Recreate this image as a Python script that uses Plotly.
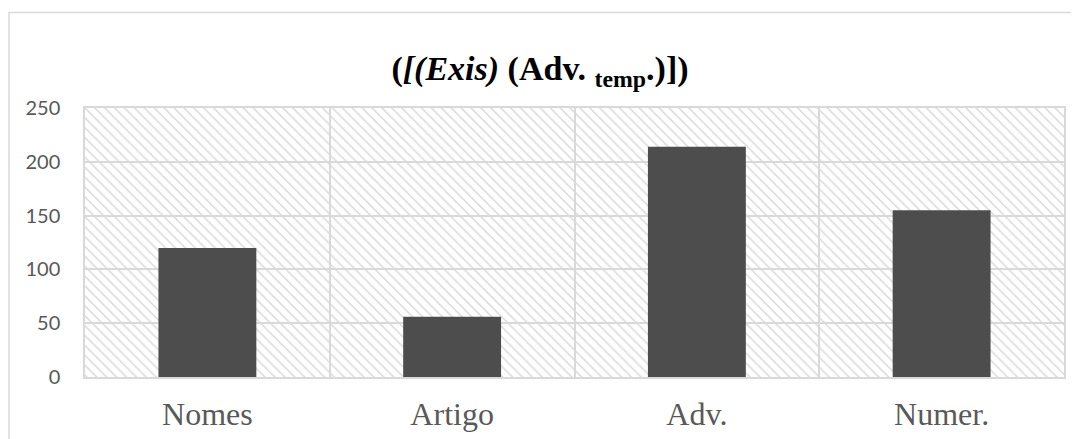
import plotly.graph_objects as go

categories = ["Nomes", "Artigo", "Adv.", "Numer."]
values = [120, 56, 214, 155]
y_ticks = [0, 50, 100, 150, 200, 250]
y_max = 250
title_text = "(<i>[(Exis)</i> (Adv. <sub>temp</sub>.)])"

# page body adds ~8px offset; figure sized to fit window
W, H = 1071, 431
L, R, T, B = 77, 15, 100, 62
pw, ph = W - L - R, H - T - B

fig = go.Figure()

# hatched plot-area background, one cell per category
fig.add_trace(go.Bar(
    x=categories, y=[y_max] * len(categories), width=1,
    marker=dict(color="#d9d9d9", line=dict(width=0),
                pattern=dict(shape="\\", size=7, solidity=0.22, fillmode="replace")),
    hoverinfo="skip", showlegend=False,
))

fig.add_trace(go.Bar(
    x=categories, y=values, width=0.4,
    marker=dict(color="#4d4d4d", line=dict(width=0)),
    showlegend=False,
))

fig.update_layout(
    width=W, height=H,
    margin=dict(l=L, r=R, t=T, b=B, autoexpand=False),
    paper_bgcolor="white", plot_bgcolor="white",
    barmode="overlay",
    title=dict(text=title_text, x=(540 - 8 - L) / pw, xref="paper", xanchor="center",
               y=1 - 60 / H, yref="container", yanchor="middle",
               font=dict(family="Liberation Serif", size=34, color="black", weight="bold")),
    xaxis=dict(
        tickson="boundaries", showgrid=True, gridcolor="#d9d9d9", gridwidth=1.5,
        showline=True, linecolor="#d9d9d9", linewidth=1.5, mirror=True,
        ticks="", ticklabelstandoff=8, automargin=False,
        tickfont=dict(family="Liberation Serif", size=32, color="#595959"),
    ),
    yaxis=dict(
        range=[0, y_max], tickvals=y_ticks, showgrid=True, gridcolor="#d9d9d9", gridwidth=1.5,
        showline=True, linecolor="#d9d9d9", linewidth=1.5, mirror=True, zeroline=False,
        ticks="", ticklabelstandoff=19, automargin=False,
        tickfont=dict(family="Lato", size=20, color="#595959"),
    ),
    shapes=[dict(type="rect", xref="paper", yref="paper",
                 x0=(1 - L) / pw, x1=1.1, y0=-0.5, y1=1 + (T - 4.5) / ph,
                 line=dict(color="#d9d9d9", width=1.5), fillcolor="rgba(0,0,0,0)",
                 layer="below")],
)

fig.write_html("out.html")
